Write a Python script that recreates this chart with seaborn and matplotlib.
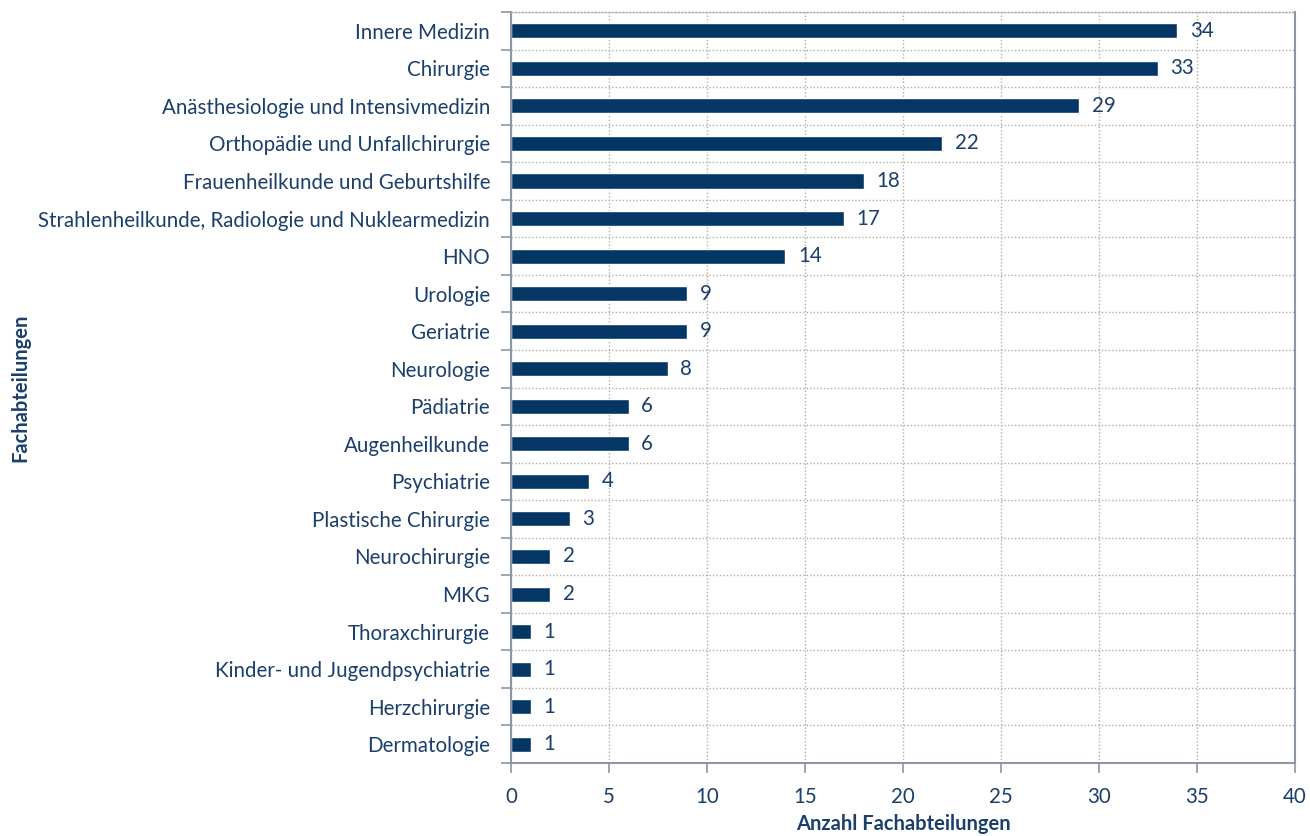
import matplotlib
matplotlib.use("Agg")
import matplotlib.pyplot as plt
import seaborn as sns
import numpy as np
import pandas as pd
from matplotlib.ticker import FixedLocator

categories = [
    "Innere Medizin", "Chirurgie", "Anästhesiologie und Intensivmedizin",
    "Orthopädie und Unfallchirurgie", "Frauenheilkunde und Geburtshilfe",
    "Strahlenheilkunde, Radiologie und Nuklearmedizin", "HNO", "Urologie",
    "Geriatrie", "Neurologie", "Pädiatrie", "Augenheilkunde", "Psychiatrie",
    "Plastische Chirurgie", "Neurochirurgie", "MKG", "Thoraxchirurgie",
    "Kinder- und Jugendpsychiatrie", "Herzchirurgie", "Dermatologie",
]
counts = [34, 33, 29, 22, 18, 17, 14, 9, 9, 8, 6, 6, 4, 3, 2, 2, 1, 1, 1, 1]
x_ticks = [0, 5, 10, 15, 20, 25, 30, 35, 40]

bar_color = "#053766"
text_color = "#1B3F6B"
frame_color = "#8C96A5"
grid_color = "#B5ADA3"

sns.set_theme(style="white")
plt.rcParams["font.family"] = ["Lato", "DejaVu Sans"]

df = pd.DataFrame({"Fachabteilung": categories, "Anzahl": counts})

fig = plt.figure(figsize=(13.1, 8.36), dpi=100)
ax = fig.add_axes([0.3901, 0.0873, 0.5984, 0.8983])

sns.barplot(data=df, x="Anzahl", y="Fachabteilung", color=bar_color,
            width=0.4, saturation=1, ax=ax, orient="h")

n = len(categories)
label_size = 14.8
ax.set_xlim(0, 40)
ax.set_ylim(n - 0.5, -0.5)
ax.set_xticks(x_ticks)
ax.set_xticklabels([str(t) for t in x_ticks])

# category labels at bar centres, tick marks at the band boundaries
ax.set_yticks(range(n))
ax.set_yticklabels(categories)
ax.yaxis.set_minor_locator(FixedLocator(np.arange(-0.5, n, 1.0)))
ax.tick_params(axis="y", which="major", length=0, pad=15,
               labelsize=label_size, labelcolor=text_color)
ax.tick_params(axis="y", which="minor", length=7, width=1.2,
               color=frame_color, left=True)
ax.tick_params(axis="x", which="major", length=7, width=1.2,
               color=frame_color, bottom=True, pad=10,
               labelsize=label_size, labelcolor=text_color)

ax.grid(False)
ax.grid(axis="x", which="major", linestyle=(0, (1, 1.5)),
        color=grid_color, linewidth=1)
ax.grid(axis="y", which="minor", linestyle=(0, (1, 1.5)),
        color=grid_color, linewidth=1)
ax.set_axisbelow(True)

for side in ["left", "bottom", "right"]:
    ax.spines[side].set_color(frame_color)
    ax.spines[side].set_linewidth(1.5)
ax.spines["top"].set_color(grid_color)
ax.spines["top"].set_linestyle((0, (1, 1.5)))
ax.spines["top"].set_linewidth(1)

for i, v in enumerate(counts):
    ax.annotate(str(v), xy=(v, i), xytext=(9, 0), textcoords="offset points",
                va="center", ha="left", fontsize=label_size, color=text_color)

ax.set_xlabel("Anzahl Fachabteilungen", fontsize=14.5, fontweight="bold",
              color=text_color)
ax.xaxis.set_label_coords(0.5, -0.068)
ax.set_ylabel("Fachabteilungen", fontsize=14.5, fontweight="bold",
              color=text_color)
ax.yaxis.set_label_coords(-0.613, 0.5)

fig.savefig("out.png", dpi=100)
